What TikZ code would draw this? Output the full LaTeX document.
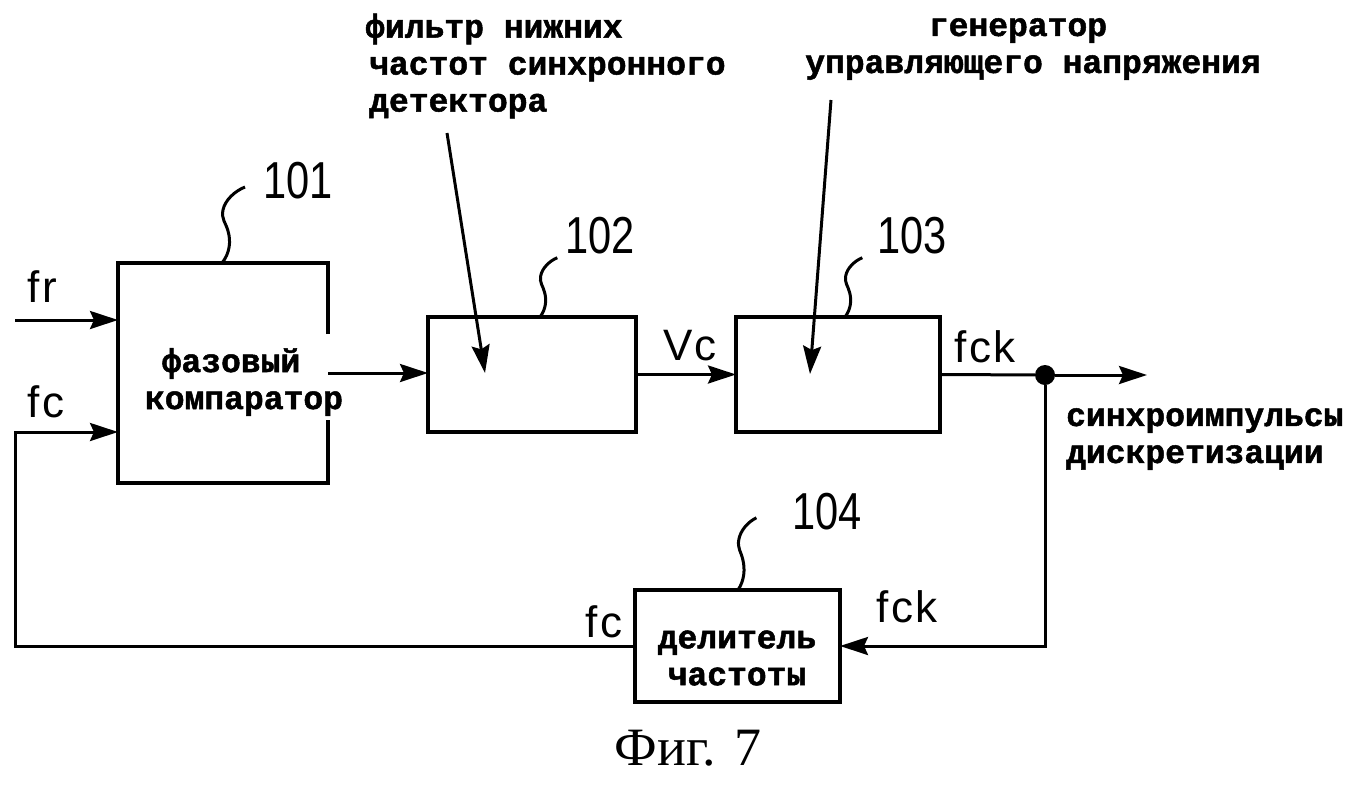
\documentclass[tikz,border=0pt]{standalone}
\usepackage{fontspec}
\usetikzlibrary{arrows.meta}
\newfontfamily\rufont[BoldFeatures={FakeBold=1.5}]{Liberation Mono}
\newfontfamily\lblfont[LetterSpace=6]{Liberation Sans}
\newfontfamily\numfont[FakeStretch=0.8]{Liberation Sans}
\newfontfamily\capfont{Liberation Serif}
\begin{document}
\begin{tikzpicture}[x=1pt,y=-1pt,
  box/.style={draw,line width=3.5pt,inner sep=0pt,outer sep=0pt},
  frame/.style={line width=3.5pt},
  conn/.style={line width=3pt},
  arr/.style={conn,-{Stealth[length=28pt,width=18pt,inset=4pt]}},
  rutext/.style={font=\rufont\bfseries\fontsize{33}{37}\selectfont,inner sep=0pt},
  sig/.style={font=\lblfont\fontsize{44}{44}\selectfont,inner sep=0pt},
  num/.style={font=\numfont\fontsize{52}{52}\selectfont,inner sep=0pt},
  jdot/.style={circle,fill,inner sep=0pt,minimum size=20pt},
  pics/squiggle/.style={code={\draw[line width=3pt] (0,0) .. controls (8,-10) and (9,-22) .. (6,-32) .. controls (4,-40) and (-1,-44) .. (1,-53) .. controls (3,-63) and (13,-72) .. (23,-76);}}
]
\fill[white] (0,0) rectangle (1368,788);
\useasboundingbox (0,0) rectangle (1368,788);

% boxes
\node[inner sep=0pt,outer sep=0pt,minimum width=210pt,minimum height=220pt] (b1) at (223,373) {};
\draw[frame] (b1.east |- 0,334) -- (b1.north east) -- (b1.north west) -- (b1.south west) -- (b1.south east) -- (b1.east |- 0,420);
\node[box,minimum width=208pt,minimum height=115pt] (b2) at (532,374.5) {};
\node[box,minimum width=204pt,minimum height=115pt] (b3) at (838,374.5) {};
\node[box,minimum width=205pt,minimum height=112pt] (b4) at (737.5,646) {};

% box texts
\node[rutext,align=center] (t1) at (231,382) {фазовый\\\hspace*{26pt}компаратор};
\node[rutext,align=center] (t4) at (737,658) {делитель\\частоты};

% reference squiggles and numbers
\pic at (222,263) {squiggle};
\pic[yscale=0.78,xscale=0.75] at (540,317) {squiggle};
\pic[yscale=0.78,xscale=0.75] at (845,317) {squiggle};
\pic[yscale=0.95,xscale=0.8] at (738,590) {squiggle};
\node[num] (n1) at (298,181) {101};
\node[num] (n2) at (600,236) {102};
\node[num] (n3) at (912,236) {103};
\node[num] (n4) at (827,512) {104};

% signal labels
\node[sig] (lfr) at (42,287) {fr};
\node[sig] (lfc) at (46,402) {fc};
\node[sig] (lvc) at (690,346) {Vc};
\node[sig] (lfck) at (985,347) {fck};
\node[sig] (lfck2) at (907,607) {fck};
\node[sig] (lfc2) at (604,622) {fc};

% inputs
\coordinate (frin) at (15,320);
\coordinate (fcin) at (15,432);
\coordinate (fbl) at (15,647);
\draw[arr] (frin) -- (frin -| b1.west);
\draw[arr] (b1.east) -- (b1.east -| b2.west);
\draw[arr] (b2.east) -- (b3.west);

% output
\node[jdot] (d) at (1045,375) {};
\coordinate (outend) at (1147,375);
\draw[conn] (b3.east) -- (d);
\draw[arr] (d) -- (outend);
\draw[arr] (d) |- (b4.east);
\draw[arr] (b4.west) -- (b4.west -| fbl) -- (fcin) -- (fcin -| b1.west);

% annotations
\node[rutext,align=left,anchor=west] (tf) at (365,66) {фильтр нижних\\\hspace*{4pt}частот синхронного\\\hspace*{4pt}детектора};
\node[rutext,align=center] (tg) at (1033,49) {\hspace*{-30pt}генератор\\управляющего напряжения};
\node[rutext,align=left,anchor=west] (ts) at (1066,439) {синхроимпульсы\\дискретизации};
\coordinate (a2s) at (447,133);
\coordinate (a2e) at (485,373);
\coordinate (a3s) at (831,100);
\coordinate (a3e) at (810,374);
\draw[arr] (a2s) -- (a2e);
\draw[arr] (a3s) -- (a3e);

% caption
\node[font=\capfont\fontsize{54}{54}\selectfont,inner sep=0pt] (cap) at (688,748) {Фиг. 7};
\end{tikzpicture}
\end{document}
